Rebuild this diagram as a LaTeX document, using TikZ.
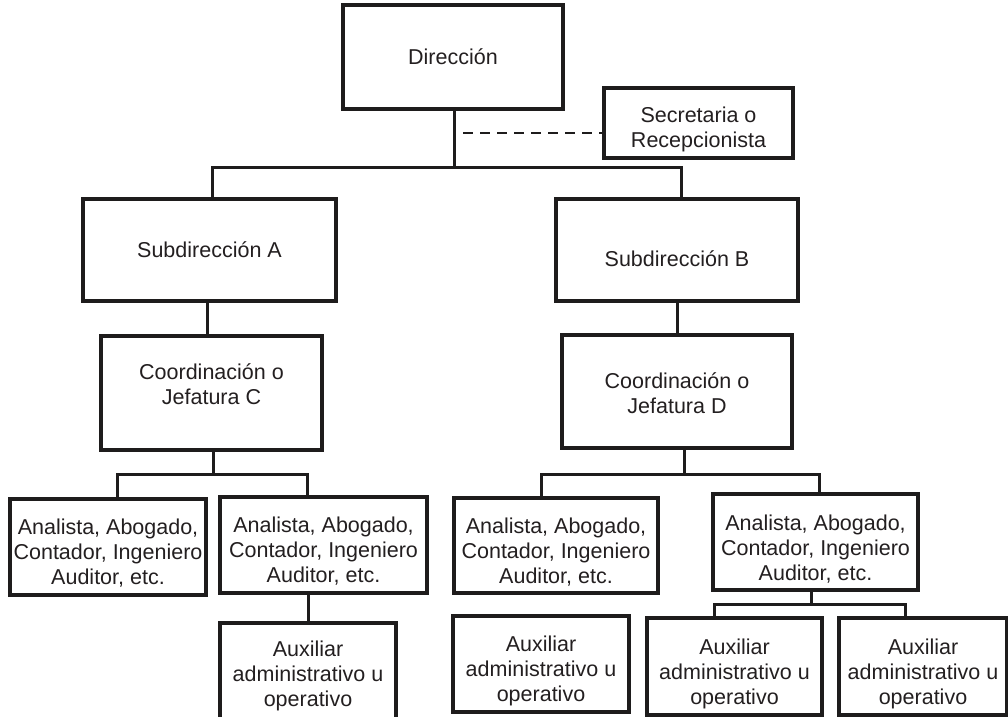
\documentclass[tikz,border=0pt]{standalone}
\usepackage{fontspec}
\setmainfont{Liberation Sans}
\definecolor{linec}{HTML}{1E1C1C}
\definecolor{textc}{HTML}{231F20}
\begin{document}
\begin{tikzpicture}[x=1pt,y=-1pt,
  box/.style={draw=linec, line width=3.1pt, inner sep=0pt, fill=white},
  lbl/.style={align=center, text=textc, font=\fontsize{21.5}{25}\selectfont, inner sep=0pt},
  conn/.style={draw=linec, line width=3pt},
  dashline/.style={draw=linec, line width=1.8pt, dash pattern=on 10pt off 7pt}]
\useasboundingbox (0,0) rectangle (1008,716);
\clip (0,0) rectangle (1008,716);
\fill[white] (0,0) rectangle (1008,716);

% boxes
\node[box, minimum width=220pt, minimum height=104pt] (dir) at (453,57) {};
\node[lbl] (dirt) at (453,57) {Dirección};
\node[box, minimum width=189pt, minimum height=70pt] (sec) at (698.5,123) {};
\node[lbl] (sect) at (698.5,129) {Secretaria o\\Recepcionista};
\node[box, minimum width=253pt, minimum height=102pt] (subA) at (209.5,250) {};
\node[lbl] (subAt) at (209.5,250) {Subdirección A};
\node[box, minimum width=242pt, minimum height=102pt] (subB) at (677,250) {};
\node[lbl] (subBt) at (677,259) {Subdirección B};
\node[box, minimum width=221pt, minimum height=114pt] (coC) at (211.5,393) {};
\node[lbl] (coCt) at (211.5,384) {Coordinación o\\Jefatura C};
\node[box, minimum width=230pt, minimum height=113pt] (coD) at (677,391.5) {};
\node[lbl] (coDt) at (677,393) {Coordinación o\\Jefatura D};
\node[box, minimum width=196pt, minimum height=96pt] (an1) at (108,547) {};
\node[lbl] (an1t) at (108,553) {Analista, Abogado,\\Contador, Ingeniero\\Auditor, etc.};
\node[box, minimum width=207pt, minimum height=96pt] (an2) at (323.5,545) {};
\node[lbl] (an2t) at (323.5,551) {Analista, Abogado,\\Contador, Ingeniero\\Auditor, etc.};
\node[box, minimum width=204pt, minimum height=95pt] (an3) at (556,545.5) {};
\node[lbl] (an3t) at (556,552) {Analista, Abogado,\\Contador, Ingeniero\\Auditor, etc.};
\node[box, minimum width=205pt, minimum height=96pt] (an4) at (815.5,542) {};
\node[lbl] (an4t) at (815.5,549) {Analista, Abogado,\\Contador, Ingeniero\\Auditor, etc.};
\node[box, minimum width=176pt, minimum height=102pt] (aux1) at (308,674) {};
\node[lbl] (aux1t) at (308,676) {Auxiliar\\administrativo u\\operativo};
\node[box, minimum width=176pt, minimum height=96pt] (aux2) at (541,664) {};
\node[lbl] (aux2t) at (541,671) {Auxiliar\\administrativo u\\operativo};
\node[box, minimum width=175pt, minimum height=97pt] (aux3) at (734.5,666.5) {};
\node[lbl] (aux3t) at (734.5,673.5) {Auxiliar\\administrativo u\\operativo};
\node[box, minimum width=168pt, minimum height=97pt] (aux4) at (923,666.5) {};
\node[lbl] (aux4t) at (923,673.5) {Auxiliar\\administrativo u\\operativo};

% junction coordinates
\coordinate (j1) at (454,167);
\coordinate (bA) at (212,167);
\coordinate (bB) at (681,167);
\coordinate (d1) at (463,133);
\coordinate (j2) at (213,474);
\coordinate (c1) at (117,474);
\coordinate (c2) at (307,474);
\coordinate (j3) at (684,474);
\coordinate (c3) at (541,474);
\coordinate (c4) at (819,474);
\coordinate (j4) at (811,604);
\coordinate (c5) at (714,604);
\coordinate (c6) at (905,604);

% connectors
\draw[conn] (dir.south -| j1) -- (j1);
\draw[conn] (subA.north -| bA) |- (j1) -| (subB.north -| bB);
\draw[dashline] (d1) -- (d1 -| sec.west);
\draw[conn] (subA.south -| 207,0) -- (coC.north -| 207,0);
\draw[conn] (subB.south) -- (coD.north);
\draw[conn] (coC.south -| j2) -- (j2);
\draw[conn] (an1.north -| c1) |- (c2) -- (an2.north -| c2);
\draw[conn] (an2.south -| 308,0) -- (aux1.north -| 308,0);
\draw[conn] (coD.south -| j3) -- (j3);
\draw[conn] (an3.north -| c3) |- (c4) -- (an4.north -| c4);
\draw[conn] (an4.south -| j4) -- (j4);
\draw[conn] (aux3.north -| c5) |- (c6) -- (aux4.north -| c6);
\end{tikzpicture}
\end{document}
